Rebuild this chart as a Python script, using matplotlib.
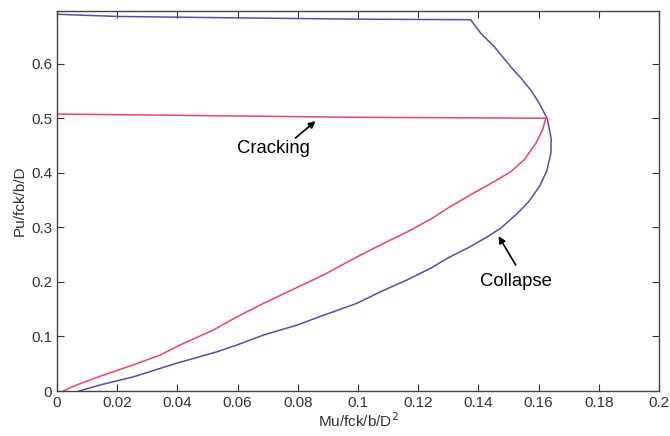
import numpy as np
import matplotlib.pyplot as plt
from matplotlib.ticker import FuncFormatter

plt.rcParams['font.family'] = ['Liberation Sans', 'DejaVu Sans']

# collapse envelope (blue)
collapse_m = [0.0073, 0.0143, 0.0254, 0.0398, 0.0532, 0.0598, 0.0687, 0.0798,
              0.0886, 0.0997, 0.1075, 0.1164, 0.1241, 0.1297, 0.1374, 0.143,
              0.1474, 0.153, 0.1568, 0.1605, 0.1628, 0.1641, 0.1642,
              0.1629, 0.1602, 0.1574, 0.1541, 0.1507, 0.1452, 0.1408, 0.1374,
              0.10, 0.05, 0.02, 0.0]
collapse_p = [0.0, 0.011, 0.026, 0.051, 0.072, 0.0844, 0.1028, 0.121,
              0.139, 0.161, 0.182, 0.204, 0.225, 0.2435, 0.265, 0.283,
              0.2985, 0.326, 0.348, 0.377, 0.405, 0.437, 0.462,
              0.499, 0.528, 0.552, 0.574, 0.595, 0.632, 0.656, 0.681,
              0.682, 0.685, 0.687, 0.691]

# cracking envelope (red)
crack_m = [0.0021, 0.0065, 0.0143, 0.0254, 0.0343, 0.0409, 0.052, 0.0598,
           0.0687, 0.0798, 0.0886, 0.0997, 0.1075, 0.1164, 0.1241, 0.1300,
           0.1374, 0.1452, 0.1507, 0.1552, 0.1591, 0.1613, 0.1624,
           0.10, 0.05, 0.0]
crack_p = [0.0, 0.011, 0.027, 0.048, 0.066, 0.0844, 0.112, 0.136,
           0.161, 0.190, 0.213, 0.246, 0.268, 0.292, 0.315, 0.336,
           0.360, 0.384, 0.402, 0.424, 0.4545, 0.479, 0.5003,
           0.502, 0.505, 0.508]

fig = plt.figure(figsize=(6.7, 4.36), dpi=100)
ax = fig.add_axes([0.085, 0.1032, 0.8986, 0.8716])

ax.plot(collapse_m, collapse_p, color='#5b4ca8', lw=1.1)
ax.plot(crack_m, crack_p, color='#e8456c', lw=1.1)

# labels and arrows
ax.text(0.0719, 0.436, 'Cracking', ha='center', va='baseline', fontsize=13.3)
ax.annotate('', xy=(0.0859, 0.495), xytext=(0.0792, 0.464),
            arrowprops=dict(arrowstyle='-|>', color='black', lw=1.2,
                            shrinkA=0, shrinkB=0, mutation_scale=10))
ax.text(0.1524, 0.1927, 'Collapse', ha='center', va='baseline', fontsize=13.3)
ax.annotate('', xy=(0.1467, 0.284), xytext=(0.1524, 0.231),
            arrowprops=dict(arrowstyle='-|>', color='black', lw=1.2,
                            shrinkA=0, shrinkB=0, mutation_scale=10))

ax.set_xlim(0, 0.2)
ax.set_ylim(0, 0.697)
ax.set_xticks(np.arange(0, 0.201, 0.02))
ax.set_yticks(np.arange(0, 0.61, 0.1))
fmt = FuncFormatter(lambda v, p: '%g' % round(v, 3))
ax.xaxis.set_major_formatter(fmt)
ax.yaxis.set_major_formatter(fmt)
ax.tick_params(direction='in', top=True, right=True, length=5, pad=3.5,
               labelsize=11, colors='#333333', labelcolor='#333333')
for s in ax.spines.values():
    s.set_color('#444444')
    s.set_linewidth(1.0)

ax.set_xlabel('Mu/fck/b/D$^2$', fontsize=11, color='#333333', labelpad=1)
ax.set_ylabel('Pu/fck/b/D', fontsize=11, color='#333333', labelpad=3)

fig.savefig('out.png', dpi=100)
